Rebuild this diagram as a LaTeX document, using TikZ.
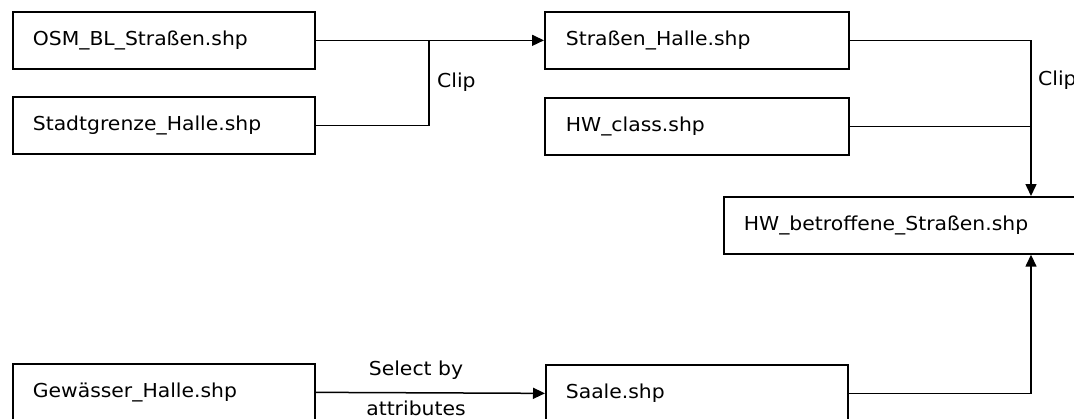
\documentclass[tikz,border=0pt]{standalone}
\usepackage{fontspec}
\setmainfont{DejaVu Sans}[FakeStretch=1.06]
\usetikzlibrary{arrows.meta}
\tikzset{
  box/.style={draw, line width=1.7pt, anchor=north west, minimum width=302pt,
    minimum height=57pt, inner xsep=20pt, inner ysep=0pt, align=left,
    text width=262pt, font=\fontsize{19.2}{22}\selectfont},
  conn/.style={line width=1.5pt},
  arr/.style={conn, -{Triangle[length=12pt,width=11pt]}},
  lbl/.style={font=\fontsize{19.2}{22}\selectfont, inner sep=0pt}
}
\begin{document}
\begin{tikzpicture}[x=1pt,y=-1pt]
\useasboundingbox[fill=white] (0,0) rectangle (1074,418);
\node[box] (osm) at (12,11) {OSM\_BL\_Straßen.shp};
\node[box] (stadt) at (12,96) {Stadtgrenze\_Halle.shp};
\node[box, minimum width=304pt] (str) at (544,11) {Straßen\_Halle.shp};
\node[box, minimum width=304pt] (hwc) at (544,97) {HW\_class.shp};
\node[box, minimum width=360pt, text width=320pt] (hwb) at (723,196) {HW\_betroffene\_Straßen.shp};
\node[box] (gew) at (12,363) {Gewässer\_Halle.shp};
\node[box] (saale) at (545,364) {Saale.shp};
\path (hwb.north west) ++(308,0) coordinate (hwtop);
\path (hwb.south west) ++(308,0) coordinate (hwbot);
\coordinate (j1) at (429,0);
% connectors
\draw[arr] (osm.east) -- (str.west);
\draw[conn] (stadt.east) -| (j1 |- osm.east);
\draw[arr] (str.east) -| (hwtop);
\draw[conn] (hwc.east) -- (hwc.east -| hwtop);
\draw[arr] (gew.east) -- (saale.west);
\draw[arr] (saale.east) -| (hwbot);
% labels
\node[lbl, anchor=west] (clip1) at (437,82) {Clip};
\node[lbl, anchor=west] (clip2) at (1038,80) {Clip};
\node[lbl] (sel) at (416,370) {Select by};
\node[lbl] (att) at (416,408) {attributes};
\end{tikzpicture}
\end{document}
